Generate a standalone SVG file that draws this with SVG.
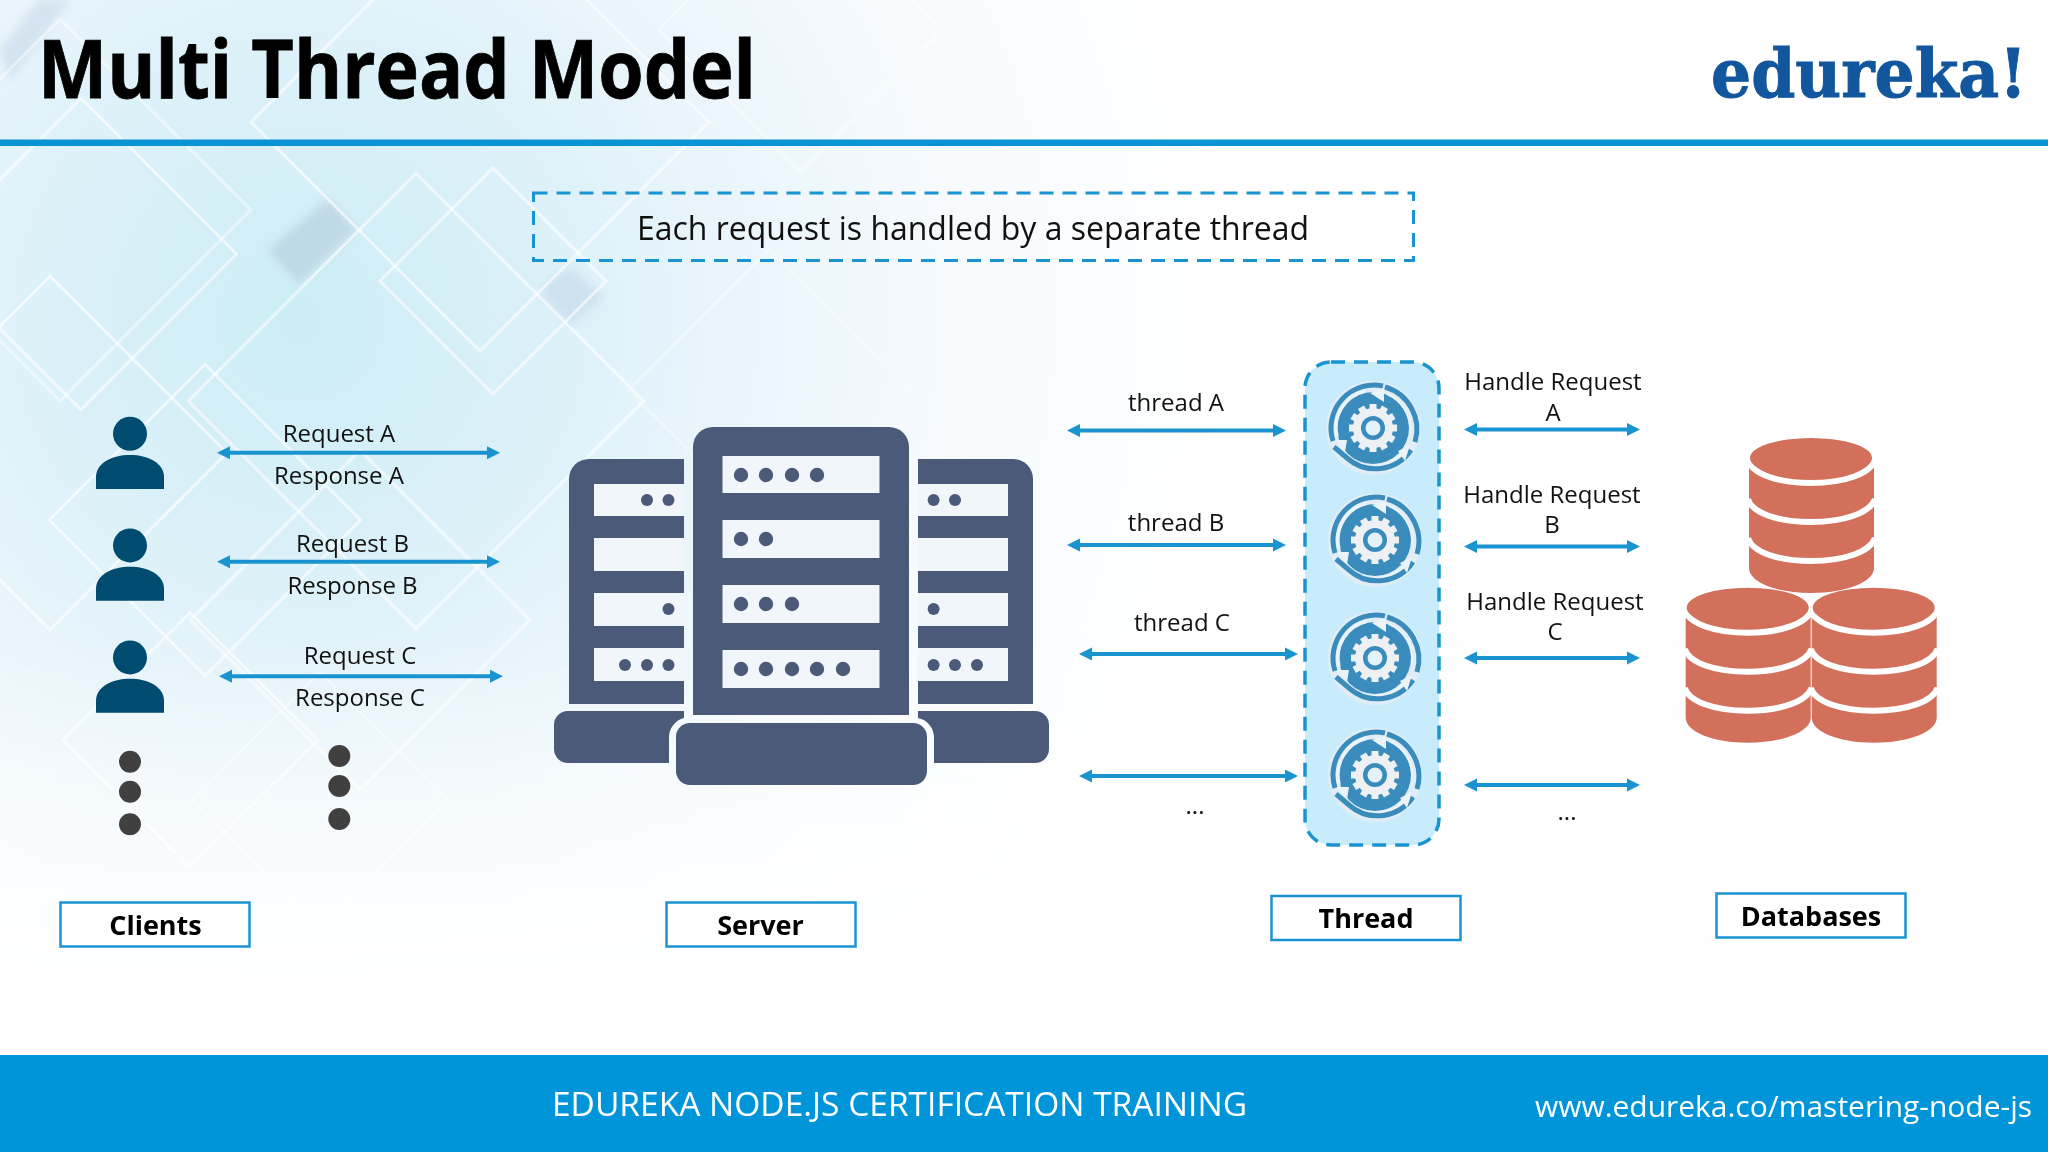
<svg xmlns="http://www.w3.org/2000/svg" width="2048" height="1152" viewBox="0 0 2048 1152">
<style>
.t{font-family:"Open Sans","Noto Sans",sans-serif;fill:#111;font-size:24px;text-anchor:middle}
.lb{fill:#fff;stroke:#1a94d0;stroke-width:2.5}
.lt{font-family:"Open Sans","Noto Sans",sans-serif;font-weight:700;font-size:27px;fill:#000;text-anchor:middle}
.c{stroke:#1a94d0;stroke-width:4;fill:none;marker-start:url(#ah);marker-end:url(#ah)}
.d{fill:none;stroke:#fff;stroke-width:3;stroke-opacity:.6}
.s{fill:#4a5a78}
.sl{fill:#f1f6fb}
.dot{fill:#404040}
</style>
<defs>
<marker id="ah" markerUnits="userSpaceOnUse" markerWidth="14" markerHeight="14" refX="3" refY="7" orient="auto-start-reverse" viewBox="0 0 14 14"><path d="M0 0.5L13 7L0 13.5Z" fill="#1a94d0"/></marker>
<radialGradient id="bgr" gradientUnits="userSpaceOnUse" cx="300" cy="320" r="950"><stop offset="0" stop-color="#cdeef6"/><stop offset=".22" stop-color="#d9f0f8"/><stop offset=".45" stop-color="#e9f5fb"/><stop offset=".72" stop-color="#f8fbfe"/><stop offset="1" stop-color="#fff"/></radialGradient>
<linearGradient id="fade" x1="0" y1="0" x2="0" y2="1"><stop offset="0" stop-color="#fff" stop-opacity="0"/><stop offset=".55" stop-color="#fff" stop-opacity="0"/><stop offset=".88" stop-color="#fff" stop-opacity="1"/></linearGradient>
<filter id="soft" x="-30%" y="-30%" width="160%" height="160%"><feGaussianBlur stdDeviation="4"/></filter>
<g id="person"><circle cx="130" cy="433.700" r="17"/><path d="M96 489V477C96 463 112 455 130 455C148 455 164 463 164 477V489Z"/></g>
<g id="stack">
<path d="M1749 465V568C1749 582 1776 593 1811 593S1874 582 1874 568V465Z" fill="#d2705b"/>
<path d="M1748 460C1752 474 1778 483 1811 483S1870 474 1875 460M1748 499C1752 513 1778 522 1811 522S1870 513 1875 499M1748 538C1752 552 1778 561 1811 561S1870 552 1875 538" fill="none" stroke="#fff" stroke-width="6"/>
<ellipse cx="1811" cy="458" rx="61" ry="20" fill="#d2705b"/>
</g>
<g id="gear">
<circle r="47" fill="#e9eef2" opacity=".7"/>
<circle r="36" fill="#3a8cbc"/>
<path d="M-8 -37A38 38 0 0 0 -36 9M-27 28A39 39 0 0 0 28 27" fill="none" stroke="#e9f3f8" stroke-width="3.500"/>
<path d="M14 -34A38 38 0 0 1 37 5" fill="none" stroke="#e9f3f8" stroke-width="2"/>
<path d="M-40 13A43 43 0 0 1 10 -42M-39 19L-26 30A43 43 0 0 0 38 22M12 -41A44 44 0 0 1 42 14" fill="none" stroke="#3a8cbc" stroke-width="5"/>
<path d="M-3 -35L11 -40L11 -26Z" fill="#e9f3f8"/><path d="M-38 12L-26 12L-28 24Z" fill="#e9f3f8"/><path d="M37 17L25 23L32 33Z" fill="#e9f3f8"/>
<g fill="#eef1f3"><circle r="20"/>
<rect id="th" x="-3.500" y="-24" width="7" height="48"/>
<use href="#th" transform="rotate(30)"/><use href="#th" transform="rotate(60)"/><use href="#th" transform="rotate(90)"/><use href="#th" transform="rotate(120)"/><use href="#th" transform="rotate(150)"/></g>
<circle r="12" fill="#3a8cbc"/><circle r="7.500" fill="#e4f2fa"/>
</g>
</defs>
<g id="background">
<rect width="2048" height="1152" fill="url(#bgr)"/>
<g filter="url(#soft)">
<path d="M268 250L329 199L356 230L298 284Z" fill="#aec4d8" opacity=".5"/>
<path d="M539 291L570 267L604 297L570 325Z" fill="#b8cbe2" opacity=".42"/>
<path d="M0 50L40 0L70 0L10 80Z" fill="#b8cbe2" opacity=".4"/>
</g>
<g class="d">
<rect x="-161" y="-161" width="322" height="322" transform="translate(416,401) rotate(45)"/>
<rect x="-162" y="-162" width="324" height="324" transform="translate(480,122) rotate(45)"/>
<rect x="-110" y="-110" width="220" height="220" transform="translate(81,254) rotate(45)"/>
<rect x="-135" y="-135" width="270" height="270" transform="translate(60,210) rotate(45)" stroke-opacity=".45"/>
<rect x="-80" y="-80" width="160" height="160" transform="translate(493,281) rotate(45)"/>
<rect x="-125" y="-125" width="250" height="250" transform="translate(50,453) rotate(45)"/>
<rect x="-110" y="-110" width="220" height="220" transform="translate(205,520) rotate(45)"/>
<rect x="-120" y="-120" width="240" height="240" transform="translate(360,620) rotate(45)"/>
<rect x="-90" y="-90" width="180" height="180" transform="translate(190,740) rotate(45)"/>
<rect x="-90" y="-90" width="180" height="180" transform="translate(320,800) rotate(45)" stroke-opacity=".4"/>
<rect x="-100" y="-100" width="200" height="200" transform="translate(800,30) rotate(45)" stroke-opacity=".4"/>
<rect x="-100" y="-100" width="200" height="200" transform="translate(770,390) rotate(45)" stroke-opacity=".3"/>
</g>
<rect width="2048" height="1152" fill="url(#fade)"/>
</g>
<g id="header">
<rect y="139.500" width="2048" height="6.500" fill="#0a94d6"/>
<text x="38" y="98" font-family="'Open Sans','Noto Sans',sans-serif" font-weight="700" font-size="80" fill="#000" stroke="#000" stroke-width=".8" textLength="718" lengthAdjust="spacingAndGlyphs">Multi Thread Model</text>
<text x="1711" y="97" font-family="'DejaVu Serif',serif" font-weight="700" font-size="68" fill="#12569e" stroke="#12569e" stroke-width="1" textLength="316" lengthAdjust="spacingAndGlyphs">edureka!</text>
</g>
<g id="note">
<rect x="533.500" y="193" width="880" height="67.500" fill="none" stroke="#1a94d0" stroke-width="3" stroke-dasharray="14 9"/>
<text x="973" y="240" font-family="'Open Sans','Noto Sans',sans-serif" font-size="33" fill="#111" text-anchor="middle" textLength="672" lengthAdjust="spacingAndGlyphs">Each request is handled by a separate thread</text>
</g>
<g id="clients" fill="#004b70">
<use href="#person"/><use href="#person" y="111.700"/><use href="#person" y="223.700"/>
<g class="dot"><circle cx="130" cy="761.700" r="11"/><circle cx="130" cy="791.700" r="11"/><circle cx="130" cy="824.300" r="11"/></g>
</g>
<g id="more-requests" class="dot"><circle cx="339.300" cy="756" r="11"/><circle cx="339.300" cy="786" r="11"/><circle cx="339.300" cy="819" r="11"/></g>
<g id="server">
<path class="s" d="M684 459H589A20 20 0 0 0 569 479V704H684Z"/>
<path class="s" d="M918 459H1013A20 20 0 0 1 1033 479V704H918Z"/>
<path class="s" d="M684 711H568A14 14 0 0 0 554 725V749A14 14 0 0 0 568 763H669V737A20 20 0 0 1 684 718Z"/>
<path class="s" d="M918 711H1035A14 14 0 0 1 1049 725V749A14 14 0 0 1 1035 763H934V737A20 20 0 0 0 918 718Z"/>
<path class="s" d="M693 715V447A20 20 0 0 1 713 427H889A20 20 0 0 1 909 447V715Z"/>
<rect class="s" x="676" y="723" width="251" height="62" rx="14"/>
<g class="sl">
<rect x="722.500" y="456" width="157" height="37"/><rect x="722.500" y="520" width="157" height="38"/><rect x="722.500" y="585" width="157" height="38"/><rect x="722.500" y="650" width="157" height="38"/>
<rect x="594" y="484" width="90" height="32"/><rect x="594" y="538" width="90" height="33"/><rect x="594" y="593" width="90" height="33"/><rect x="594" y="648" width="90" height="33"/>
<rect x="918" y="484" width="90" height="32"/><rect x="918" y="538" width="90" height="33"/><rect x="918" y="593" width="90" height="33"/><rect x="918" y="648" width="90" height="33"/>
</g>
<g class="s">
<circle cx="741" cy="475" r="7.200"/><circle cx="766" cy="475" r="7.200"/><circle cx="792" cy="475" r="7.200"/><circle cx="817" cy="475" r="7.200"/>
<circle cx="741" cy="539" r="7.200"/><circle cx="766" cy="539" r="7.200"/>
<circle cx="741" cy="604" r="7.200"/><circle cx="766" cy="604" r="7.200"/><circle cx="792" cy="604" r="7.200"/>
<circle cx="741" cy="669" r="7.200"/><circle cx="766" cy="669" r="7.200"/><circle cx="792" cy="669" r="7.200"/><circle cx="817" cy="669" r="7.200"/><circle cx="843" cy="669" r="7.200"/>
<circle cx="647" cy="500" r="6"/><circle cx="668.500" cy="500" r="6"/><circle cx="668.500" cy="609" r="6"/><circle cx="625" cy="665" r="6"/><circle cx="647" cy="665" r="6"/><circle cx="668.500" cy="665" r="6"/>
<circle cx="933.600" cy="500" r="6"/><circle cx="955" cy="500" r="6"/><circle cx="933.600" cy="609" r="6"/><circle cx="933.600" cy="665" r="6"/><circle cx="955" cy="665" r="6"/><circle cx="977" cy="665" r="6"/>
</g>
</g>
<g id="thread">
<rect x="1305" y="362" width="134" height="483" rx="26" fill="#c9ecfd" stroke="#1a94d0" stroke-width="3.500" stroke-dasharray="14 9"/>
<use href="#gear" transform="translate(1373,428)"/><use href="#gear" transform="translate(1375,540)"/><use href="#gear" transform="translate(1375,658)"/><use href="#gear" transform="translate(1375,775)"/>
</g>
<g id="databases">
<use href="#stack"/><use href="#stack" x="-63.300" y="149.700"/><use href="#stack" x="62.700" y="149.700"/>
</g>
<g id="connectors">
<line class="c" x1="227" y1="452.700" x2="490" y2="452.700"/>
<line class="c" x1="227" y1="561.700" x2="490" y2="561.700"/>
<line class="c" x1="229" y1="676.300" x2="493" y2="676.300"/>
<line class="c" x1="1077" y1="430.500" x2="1276" y2="430.500"/>
<line class="c" x1="1077" y1="545" x2="1276" y2="545"/>
<line class="c" x1="1089" y1="654" x2="1288" y2="654"/>
<line class="c" x1="1089" y1="776" x2="1288" y2="776"/>
<line class="c" x1="1474" y1="429.500" x2="1630" y2="429.500"/>
<line class="c" x1="1474" y1="546.500" x2="1630" y2="546.500"/>
<line class="c" x1="1474" y1="658" x2="1630" y2="658"/>
<line class="c" x1="1474" y1="785" x2="1630" y2="785"/>
</g>
<g id="connector-labels">
<text class="t" x="339" y="442">Request A</text><text class="t" x="339" y="484">Response A</text>
<text class="t" x="352.500" y="552">Request B</text><text class="t" x="352.500" y="594">Response B</text>
<text class="t" x="360" y="664">Request C</text><text class="t" x="360" y="706">Response C</text>
<text class="t" x="1176" y="411">thread A</text><text class="t" x="1176" y="531">thread B</text><text class="t" x="1182" y="631">thread C</text><text class="t" x="1195" y="814">...</text>
<text class="t" x="1553" y="390">Handle Request</text><text class="t" x="1553" y="421">A</text>
<text class="t" x="1552" y="503">Handle Request</text><text class="t" x="1552" y="533">B</text>
<text class="t" x="1555" y="610">Handle Request</text><text class="t" x="1555" y="640">C</text>
<text class="t" x="1567" y="820">...</text>
</g>
<g id="label-clients"><rect class="lb" x="60.500" y="902.500" width="189" height="44"/><text class="lt" x="155.500" y="935">Clients</text></g>
<g id="label-server"><rect class="lb" x="666.500" y="902.500" width="189" height="44"/><text class="lt" x="760.500" y="935">Server</text></g>
<g id="label-thread"><rect class="lb" x="1271.500" y="896" width="189" height="44"/><text class="lt" x="1366" y="928">Thread</text></g>
<g id="label-databases"><rect class="lb" x="1716.500" y="893.500" width="189" height="44"/><text class="lt" x="1811" y="926">Databases</text></g>
<g id="footer">
<rect y="1055" width="2048" height="97" fill="#0095d8"/>
<text x="552" y="1116" font-family="'Open Sans','Noto Sans',sans-serif" font-size="33" fill="#fff" textLength="695" lengthAdjust="spacingAndGlyphs">EDUREKA NODE.JS CERTIFICATION TRAINING</text>
<text x="1535" y="1117" font-family="'Open Sans','Noto Sans',sans-serif" font-size="30" fill="#fff" textLength="497" lengthAdjust="spacingAndGlyphs">www.edureka.co/mastering-node-js</text>
</g>
</svg>
